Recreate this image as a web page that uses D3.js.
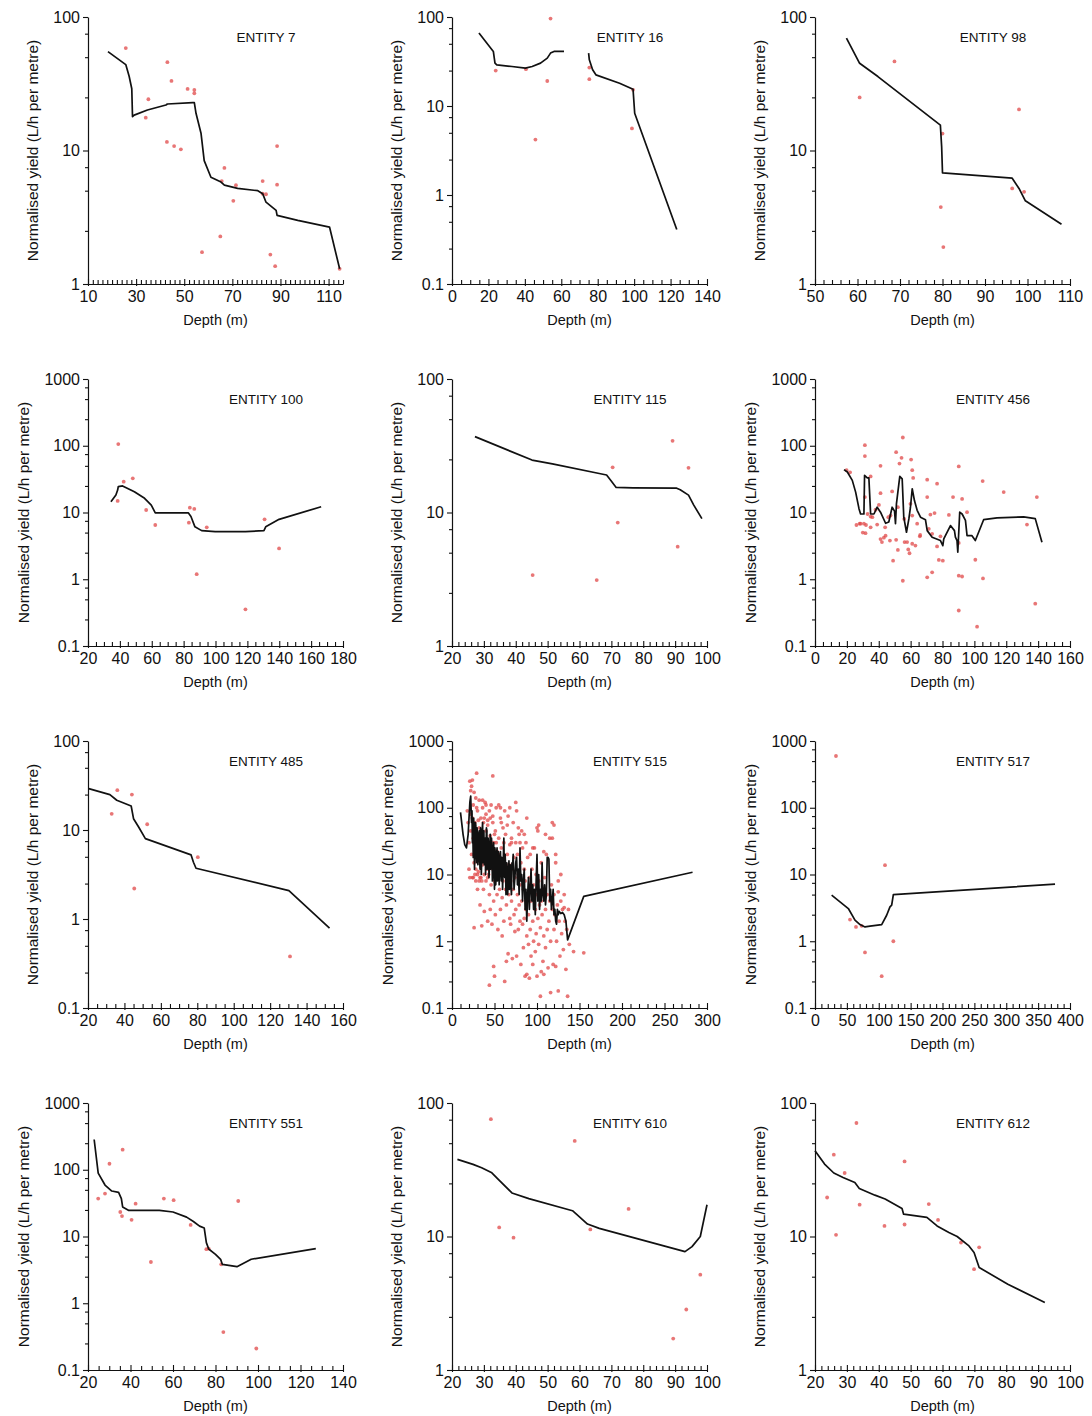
<!DOCTYPE html>
<html><head><meta charset="utf-8">
<script src="https://cdn.jsdelivr.net/npm/d3@7"></script>
<style>
body{margin:0;background:#fff}
svg{display:block}
text{font-family:"Liberation Sans",Arial,Helvetica,sans-serif;fill:#111}
</style>
</head><body>
<svg id="c" width="1092" height="1416"></svg>
<script>
// ---------- panel definitions ----------
const entityNames = ["ENTITY 7","ENTITY 16","ENTITY 98","ENTITY 100","ENTITY 115","ENTITY 456","ENTITY 485","ENTITY 515","ENTITY 517","ENTITY 551","ENTITY 610","ENTITY 612"];
const depthDomains = [[10,116],[0,140],[50,110],[20,180],[20,100],[0,160],[20,160],[0,300],[0,400],[20,140],[20,100],[20,100]];
const depthTickLabels = [
  [10,30,50,70,90,110],[0,20,40,60,80,100,120,140],[50,60,70,80,90,100,110],
  [20,40,60,80,100,120,140,160,180],[20,30,40,50,60,70,80,90,100],[0,20,40,60,80,100,120,140,160],
  [20,40,60,80,100,120,140,160],[0,50,100,150,200,250,300],[0,50,100,150,200,250,300,350,400],
  [20,40,60,80,100,120,140],[20,30,40,50,60,70,80,90,100],[20,30,40,50,60,70,80,90,100]];
const depthMinorSteps = [2,5,2,5,2,5,5,10,10,5,2,2];
const yieldDomains = [[1,100],[0.1,100],[1,100],[0.1,1000],[1,100],[0.1,1000],[0.1,100],[0.1,1000],[0.1,1000],[0.1,1000],[1,100],[1,100]];
const xTitle = "Depth (m)";
const yTitle = "Normalised yield (L/h per metre)";

// ---------- ENTITY 7 ----------
const e7Line = [[18.3,55],[25.7,44],[27.1,36],[28.2,29],[28.5,17.9],[29.2,18.4],[34.7,20.1],[42.4,21.9],[43,22.3],[53.5,22.8],[54.2,22.8],[54.9,19],[57,13.4],[58.3,8.4],[61.1,6.3],[65.3,5.8],[66.7,5.5],[72.2,5.2],[80.6,5.0],[82.6,4.75],[84,4.1],[88.2,3.56],[88.6,3.27],[97.2,3.0],[110.4,2.67],[114.6,1.3]];
const e7Pts = [[25.7,58.5],[43,45.9],[44.7,33.2],[51.4,28.9],[54.2,28.4],[54.2,26.8],[35.1,24.2],[34,17.6],[42.8,11.6],[45.8,10.8],[48.6,10.2],[66.7,7.4],[65.6,5.9],[71.5,5.5],[70.4,4.2],[82.6,5.9],[88.6,5.55],[82.6,4.75],[84,4.7],[88.6,10.8],[65,2.27],[57.4,1.73],[85.8,1.66],[87.8,1.36],[114.6,1.3]];

// ---------- ENTITY 16 ----------
const e16LineA = [[14.8,66],[22.7,41],[23.6,30.3],[24.6,29],[32.9,27.8],[40.3,26.6],[44,27.8],[48.6,30.3],[52.3,34.5],[54.1,39.3],[56,41],[61.5,41]];
const e16LineB = [[75,39.3],[75.4,33],[77.2,25.5],[79,22.4],[92,18],[99.4,15.4],[100.3,8.3],[123.4,0.41]];
const e16Pts = [[54.1,96],[24,25],[40.6,25.9],[52.3,19.1],[45.8,4.2],[75.4,27],[75.4,20],[99.4,15.2],[98.8,5.6]];

// ---------- ENTITY 98 ----------
const e98Line = [[57.4,69.5],[60.5,45],[64.8,35.8],[79.5,15.5],[79.8,10.7],[80,6.8],[96.4,6.2],[98,5.2],[99.5,4.2],[108,2.8]];
const e98Pts = [[68.7,46.5],[60.5,25],[98,20.3],[80,13.4],[96.4,5.2],[99.2,4.9],[79.6,3.77],[80.2,1.89]];

// ---------- ENTITY 100 ----------
const e100Line = [[34.4,14.5],[37.5,18.3],[38.6,21.7],[39,24.4],[41.7,25],[49.1,20.5],[55.5,16.3],[59.7,12.9],[62.2,9.9],[82.9,9.9],[84.6,8.7],[87.1,6.1],[91.3,5.35],[99.8,5.16],[118.8,5.16],[130.4,5.35],[131.5,6.1],[139.9,7.9],[166.3,12.2]];
const e100Pts = [[39,106],[42.4,29],[48.1,32.5],[38.6,14.9],[56.5,10.9],[62.2,6.5],[83.9,11.8],[86.7,11.3],[83.3,7.05],[94.5,6],[88.2,1.19],[118.8,0.354],[130.8,7.9],[139.9,2.9]];

// ---------- ENTITY 115 ----------
const e115Line = [[27.2,37],[45.1,24.7],[51.5,23.1],[66.2,19.6],[68.5,19.1],[69.9,17.3],[71.5,15.4],[76.8,15.3],[90.5,15.2],[91.6,14.8],[94.2,13.5],[95.8,11.4],[98.4,9]];
const e115Pts = [[89.2,34.4],[70.4,21.8],[94.2,21.6],[72,8.4],[90.8,5.55],[45.3,3.4],[65.4,3.12]];

// ---------- ENTITY 456 ----------
const e456Line = [[18.2,43.9],[20.3,40.4],[23.4,30.3],[25.5,20.2],[27.6,11.4],[28.6,9.5],[30.7,9.5],[31.1,36],[32.8,33],[33.8,33],[34.9,9.5],[37,9.5],[39,12],[41.1,10.1],[44.3,6.9],[46.3,7.2],[48.4,12],[49.9,10.5],[50.5,6.8],[51.1,13.5],[53.2,34.7],[54.7,32],[55.7,8.5],[57.4,5.06],[58.9,8],[59.9,12],[61,22.7],[62.4,15.1],[64.1,10.8],[66.2,8.5],[69.3,7.8],[70.4,5.35],[73.5,4.26],[78.7,3.8],[80.2,3.19],[80.8,4.02],[85,6.38],[87.5,5.35],[88.1,4.26],[89.1,3.8],[89.6,2.54],[90.8,10.1],[92.3,9.5],[94.4,7.6],[95.4,4.5],[98.5,4.5],[100.6,3.8],[105.8,7.8],[114.2,8.3],[130.9,8.6],[138.2,8.1],[142.4,3.58]];
const e456Pts = [[19.8,43],[31.3,102],[31.3,70],[41.1,50],[41.1,19.5],[31.3,17],[34.9,34.7],[28.6,6.8],[30.7,6.8],[31.7,4.9],[34.9,8.7],[34.9,6],[39,6.6],[40.1,13],[41.1,4],[43.2,4.2],[44.3,4.5],[47.4,9],[48.4,20.7],[49,1.9],[50.9,80],[53,54],[54.3,66],[55.1,133],[50.9,3.9],[52,2.75],[55.1,0.95],[56.2,3.6],[57.8,3.6],[58.5,2.8],[59.3,2.45],[60.3,62],[61,43],[61.6,33],[59.9,13.5],[61,9],[61,3.4],[63,3.2],[64.1,6.8],[65.8,4.4],[70.4,31],[70.4,17],[71.4,5.7],[72.4,9.3],[73.5,4.8],[70.4,1.07],[73.5,1.27],[76.6,27],[76.6,3.1],[77.7,1.95],[80.2,1.9],[78.7,4.4],[86.6,17],[84,9.2],[90.2,49],[92.3,16],[95.4,10.1],[90.2,3.5],[90.2,1.13],[92.3,1.1],[90.2,0.34],[100.6,1.96],[101.7,0.195],[105.4,1.03],[105.2,29.6],[118.4,20.2],[133,6.6],[139.2,17],[138.2,0.43],[26,6.5],[28,6.8],[30,5],[32,6.5],[36,8.5],[38,11],[46,8.5],[44,6],[42,3.6],[47,3.8],[33,9.5],[22,40],[52,12],[56,8],[66,4.6],[75,9.8]];

// ---------- ENTITY 485 ----------
const e485Line = [[20.4,29.2],[32,25],[35.8,21.6],[43.7,18.6],[45,13.4],[47.8,10.8],[51.5,8],[76.6,5.25],[77.9,4.34],[79.3,3.72],[130.3,2.08],[152.6,0.79]];
const e485Pts = [[36.1,28],[44.1,25],[33,15.2],[52.5,11.6],[80.3,4.95],[45.4,2.2],[130.9,0.38]];

// ---------- ENTITY 515 ----------
const e515Line = [[10,85],[13,40],[15,28],[17,25],[19,40],[21,120],[22,150],[23,60],[23.5,90],[24,30],[24.5,45],[25,18],[25.5,70],[26,40],[26.5,12],[27,25],[27.5,60],[28,55],[28.5,20],[29,15],[29.5,50],[30,35],[30.5,14],[31,20],[31.5,40],[32,45],[32.5,18],[33,12],[33.5,50],[34,30],[34.5,10],[35,18],[35.5,45],[36,60],[36.5,15],[37,25],[37.5,45],[38,14],[38.5,20],[39,35],[39.5,10],[40,20],[40.5,50],[41,45],[41.5,12],[42,15],[42.5,35],[43,28],[43.5,9],[44,12],[44.5,25],[45,40],[45.5,12],[46,18],[46.5,35],[47,25],[47.5,8],[48,10],[48.5,22],[49,30],[49.5,12],[50,6],[50.5,25],[51,20],[51.5,7],[52,12],[52.5,20],[53,25],[53.5,8],[54,9],[54.5,22],[55,18],[55.5,7],[56,11],[56.5,16],[57,22],[57.5,12],[58,8],[58.5,18],[59,15],[59.5,6],[60,10],[60.5,20],[61,35],[61.5,12],[62,9],[62.5,20],[63,14],[63.5,5],[64,6],[64.5,15],[65,12],[65.5,5],[66,8],[66.5,10],[67,16],[67.5,6],[68,7],[68.5,14],[69,10],[69.5,6],[70,5],[70.5,15],[71,12],[72,20],[73,6],[74,9],[75,15],[76,18],[77,7],[78,12],[79,5],[80,25],[81,8],[82,10],[83,4],[84,8],[85,12],[86,3],[87,6],[88,2],[89,5],[90,9],[91,3],[92,6],[93,12],[94,4],[95,7],[96,3],[97,6],[98,2.5],[99,8],[100,20],[101,4],[102,10],[103,3],[104,6],[105,4],[106,15],[107,5],[108,4],[109,7],[110,3.5],[111,5],[112,18],[113,18],[114,17],[115,4],[116,6],[117,3],[118,4],[119,6],[120,2.5],[121,3],[122,2],[123,1.8],[124,3],[125,2.5],[126,2.8],[128,2.6],[130,2.7],[132,2.5],[134,2],[136,1.05],[155,4.7],[283,10.8]];
const e515Pts = [[18,90],[19,60],[20,30],[20,12],[21,9],[21,250],[22,180],[22,45],[23,210],[23,20],[24,70],[24,9],[25,35],[25,110],[26,1.6],[26,15],[27,60],[27,25],[28,8],[28,140],[29,330],[29,40],[30,18],[30,6],[30,90],
[31,25],[31,11],[32,130],[32,50],[33,3.5],[33,22],[34,70],[34,9],[35,1.7],[35,35],[36,100],[36,14],[37,60],[37,6],[38,28],[38,2.8],[39,120],[39,18],[40,45],[40,8],[40,80],[41,12],[41,30],[42,2],[42,55],[43,10],[43,20],[44,90],[44,5],[44,0.22],[45,38],[45,15],[45,3],
[46,110],[46,7],[47,25],[47,1.8],[48,60],[48,12],[48,300],[49,4],[49,0.42],[49,30],[50,18],[50,8],[50,0.3],[51,45],[51,2.5],[52,14],[52,100],[53,5],[53,22],[54,9],[54,1.5],[55,35],[55,110],[56,6],[56,15],[57,3],[57,70],[58,11],[58,25],[59,4.5],[59,1.2],[60,50],[60,8],[60,17],
[61,2],[61,30],[62,0.25],[62,12],[63,6],[63,40],[64,0.5],[64,3.5],[65,20],[65,9],[66,0.65],[66,75],[67,5],[67,14],[68,2.2],[68,28],[69,8],[69,1.8],[70,35],[70,4],[71,0.55],[71,12],[72,6],[72,60],[73,2.5],[73,18],[74,9],[74,1.4],[75,30],[75,3],
[76,0.6],[76,90],[77,5],[77,20],[78,1.5],[78,10],[79,40],[79,3.5],[80,2],[80,7],[81,0.45],[81,15],[82,45],[82,4],[83,1.8],[83,25],[84,6],[84,0.8],[85,12],[85,2.2],[86,0.3],[86,8],[87,3],[87,30],[88,0.32],[88,1.2],[89,5],[89,18],[90,0.9],[90,2.5],
[91,9],[91,0.28],[92,1.5],[92,20],[93,4],[93,0.6],[94,12],[95,2],[95,0.45],[96,7],[96,1],[97,25],[98,3],[98,0.7],[99,1.3],[99,10],[100,0.3],[100,5],[101,2.2],[101,45],[102,0.9],[102,8],[103,3.5],[104,0.15],[104,1.6],[105,15],[105,0.35],[105,4],
[106,2.5],[107,0.5],[107,6],[108,0.32],[108,1.2],[109,9],[110,3],[110,0.8],[111,20],[112,1.5],[112,5],[113,0.4],[114,2],[115,35],[115,4],[116,0.17],[116,1],[117,7],[118,3],[118,60],[119,0.45],[120,1.5],[120,5],[121,2.5],[122,0.42],[122,15],[123,1],[124,3.5],[125,0.18],[125,8],[126,2],[127,0.6],[128,4],[129,1.3],[130,3],[131,0.75],[132,5],[133,2],[134,0.38],[135,1.5],[136,0.15],[137,3],[138,0.9],[143,0.7],[155,0.67],
[25,9],[27,10],[30,10],[33,9],[35,8],[38,10],[42,9],[32,8],[28,12],[26,170],[24,260],[36,130],[40,110],[42,65],[45,70],[50,40],[52,30],[55,20],[58,60],[62,90],[65,55],[70,30],[78,50],[80,30],[85,40],[95,25],[100,50],[110,40],[120,55],[118,35],[122,20],[128,10],[125,5.5],[132,3.2],[102,55],[108,22],[88,70],[75,120],[68,100],[57,100],[48,75],[38,70],[34,45],[31,65],[29,100],[22,80]];

// ---------- ENTITY 517 ----------
const e517Line = [[26.1,4.9],[39.2,3.9],[52.3,3.09],[62.7,2.07],[70.6,1.78],[78.4,1.64],[86.3,1.68],[104.6,1.78],[112.4,2.45],[117.6,3.27],[120.3,3.47],[122.9,5],[376.5,7.16]];
const e517Pts = [[32.9,596],[109.8,13.8],[54.9,2.11],[64.3,1.64],[73.2,1.7],[78.4,0.68],[122.9,1.0],[104.6,0.3]];

// ---------- ENTITY 551 ----------
const e551Line = [[22.9,284],[24.8,89],[28,59],[31.2,48],[34.4,45.7],[35.7,37],[36.3,27.7],[39.2,24.6],[53.6,24.6],[60,23.3],[66.4,19.5],[69.6,16.8],[72.5,14.3],[74.7,13.4],[75.7,8.1],[76.8,6.5],[80,5.4],[82.4,4.56],[83.2,3.83],[90.1,3.53],[96.8,4.56],[127.2,6.6]];
const e551Pts = [[36.3,200],[30.1,123],[24.8,37],[28,44],[42.4,31],[55.7,37],[60.3,35],[90.7,34],[35.2,23.3],[36,20.2],[40.5,17.8],[68.3,14.9],[49.6,4.15],[75.7,6.46],[76.8,6.6],[82.7,3.83],[83.7,0.37],[99.2,0.21]];

// ---------- ENTITY 610 ----------
const e610Line = [[21.7,37.8],[26.6,34.7],[29.3,32.7],[32.5,30],[34.6,26.7],[38.8,21.2],[44.1,19.2],[57.8,15.6],[59.9,14.1],[62.5,12.4],[66.2,11.5],[93.1,7.7],[95.3,8.4],[97.9,10],[100,17.3]];
const e610Pts = [[32.2,75.7],[58.5,52],[75.4,16.1],[34.8,11.7],[39.3,9.8],[63.4,11.3],[97.9,5.18],[93.5,2.84],[89.4,1.72]];

// ---------- ENTITY 612 ----------
const e612Line = [[20,43.9],[23,34.9],[25.9,29.9],[28.8,27.7],[32.5,25.4],[33.9,22.9],[38.8,20.4],[42,19.1],[47.3,16.2],[47.8,14.7],[55.1,13.9],[58.3,12],[62,10.7],[64.6,10],[68.3,8.5],[69.9,7.6],[71.5,5.86],[80.5,4.39],[92.1,3.2]];
const e612Pts = [[33,70.8],[25.9,41],[48.1,36.5],[29.3,29.9],[23.8,19.6],[34,17.3],[55.7,17.5],[58.6,13.3],[41.8,12],[48.1,12.3],[26.6,10.3],[65.8,9],[71.5,8.3],[69.9,5.69]];

const panelLines = [[e7Line],[e16LineA,e16LineB],[e98Line],[e100Line],[e115Line],[e456Line],[e485Line],[e515Line],[e517Line],[e551Line],[e610Line],[e612Line]];
const panelPoints = [e7Pts,e16Pts,e98Pts,e100Pts,e115Pts,e456Pts,e485Pts,e515Pts,e517Pts,e551Pts,e610Pts,e612Pts];

// ---------- layout ----------
const colX = [88,452,815];
const rowTop = [17,379,741,1103];
const plotW = 255, plotH = 267;

const svg = d3.select("#c");
svg.append("rect").attr("width",1092).attr("height",1416).attr("fill","#fff");

entityNames.forEach((name,i)=>{
  const col = i%3, row = Math.floor(i/3);
  const g = svg.append("g").attr("transform",`translate(${colX[col]},${rowTop[row]})`);
  const x = d3.scaleLinear().domain(depthDomains[i]).range([0,plotW]);
  const y = d3.scaleLog().domain(yieldDomains[i]).range([plotH,0]);

  // y ticks
  const e0 = Math.round(Math.log10(yieldDomains[i][0])), e1 = Math.round(Math.log10(yieldDomains[i][1]));
  const decades = d3.range(e0,e1+1).map(e=>+Math.pow(10,e).toPrecision(1));
  const yMinor = [];
  d3.range(e0,e1).forEach(e=>{[2.5,5,7.5].forEach(m=>yMinor.push(m*Math.pow(10,e)));});
  const yMinorAxis = g.append("g").call(d3.axisLeft(y).tickValues(yMinor).tickSize(3).tickFormat(""));
  yMinorAxis.select(".domain").remove();
  const yAxis = g.append("g").call(d3.axisLeft(y).tickValues(decades).tickSize(5).tickSizeOuter(0).tickPadding(3)
      .tickFormat(d=>String(d)));
  yAxis.selectAll("text").style("font-size","16px").attr("fill","#111");

  // x ticks (inward)
  const dd = depthDomains[i], st = depthMinorSteps[i];
  const xMinor = d3.range(dd[0], dd[1]+1e-6, st).filter(v=>!depthTickLabels[i].includes(v));
  const xMinorAxis = g.append("g").attr("transform",`translate(0,${plotH})`)
      .call(d3.axisBottom(x).tickValues(xMinor).tickSize(-4).tickFormat(""));
  xMinorAxis.select(".domain").remove();
  const xAxis = g.append("g").attr("transform",`translate(0,${plotH})`)
      .call(d3.axisBottom(x).tickValues(depthTickLabels[i]).tickSizeInner(-5).tickSizeOuter(0).tickPadding(7));
  xAxis.selectAll(".tick line").attr("y2",-5).attr("y1",2);
  xAxis.selectAll("text").style("font-size","16px").attr("fill","#111");
  g.selectAll(".domain").attr("stroke","#111").attr("stroke-width",1.2);
  g.selectAll(".tick line").attr("stroke","#111").attr("stroke-width",1.1);

  // points
  g.append("g").selectAll("circle").data(panelPoints[i]).join("circle")
    .attr("cx",d=>x(d[0])).attr("cy",d=>y(d[1])).attr("r",1.9)
    .attr("fill","#e04848").attr("fill-opacity",0.75);

  // lines
  const line = d3.line().x(d=>x(d[0])).y(d=>y(d[1]));
  panelLines[i].forEach(seg=>{
    g.append("path").datum(seg).attr("d",line).attr("fill","none")
      .attr("stroke","#111").attr("stroke-width",1.7).attr("stroke-linejoin","round");
  });

  // title
  g.append("text").attr("x",178).attr("y",25).attr("text-anchor","middle")
    .style("font-size","13.5px").text(name);

  // axis titles
  g.append("text").attr("x",plotW/2).attr("y",plotH+41).attr("text-anchor","middle")
    .style("font-size","14.5px").text(xTitle);
  const lw = d3.max(yAxis.selectAll("text").nodes(), n=>n.getComputedTextLength());
  const tx = -(8 + lw + 21);
  g.append("text").attr("transform",`translate(${tx},${plotH/2}) rotate(-90)`)
    .attr("text-anchor","middle").attr("dy","0.35em")
    .style("font-size","15.5px").text(yTitle);
});
</script>
</body></html>
